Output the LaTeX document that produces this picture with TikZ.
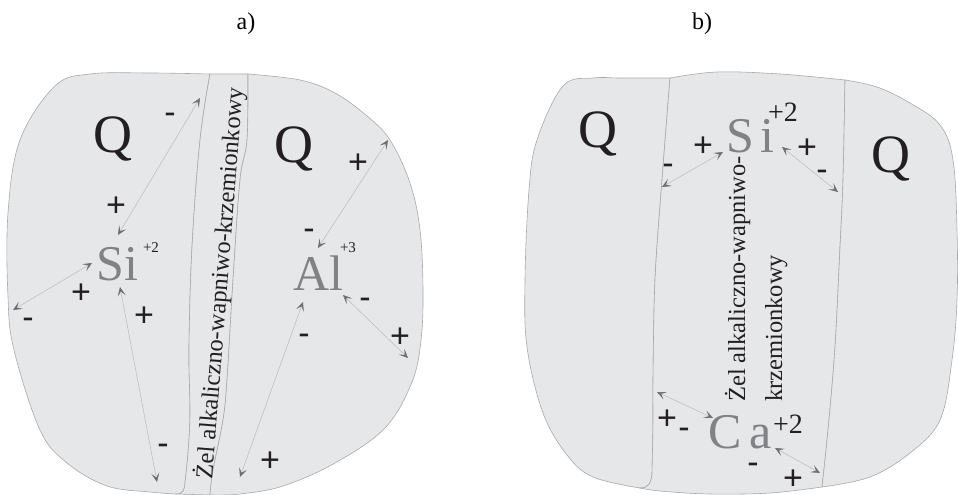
\documentclass[tikz,border=0pt]{standalone}
\usepackage{fontspec}
\setmainfont{Liberation Serif}
\newfontfamily\signfont{Liberation Sans}
\usetikzlibrary{arrows.meta}
\definecolor{blobfill}{RGB}{230,231,232}
\definecolor{blobline}{RGB}{167,169,172}
\definecolor{ink}{RGB}{35,31,32}
\definecolor{ion}{RGB}{128,130,133}
\definecolor{linegrey}{RGB}{185,186,188}
\definecolor{headgrey}{RGB}{109,110,113}
\begin{document}
\begin{tikzpicture}[x=1pt,y=-1pt,
  blob/.style={fill=blobfill, draw=blobline, line width=0.6pt},
  bigq/.style={font=\fontsize{54}{60}\selectfont, text=ink, inner sep=0pt, anchor=base},
  ionlbl/.style={font=\fontsize{50}{56}\selectfont, text=ion, inner sep=0pt, anchor=base},
  chgsmall/.style={font=\fontsize{15}{18}\selectfont, text=ink, inner sep=0pt, anchor=base},
  chgbig/.style={font=\fontsize{28}{32}\selectfont, text=ink, inner sep=0pt, anchor=base},
  sgn/.style={font=\signfont\fontsize{34}{36}\selectfont, text=ink, inner sep=0pt,
    text height=23pt, text depth=0pt},
  gel/.style={font=\fontsize{24.5}{38}\selectfont, text=ink, inner sep=0pt},
  panel/.style={font=\fontsize{24}{28}\selectfont, text=black, inner sep=0pt},
  dbl/.style={draw=linegrey, line width=0.5pt,
    {Stealth[length=9pt,width=8pt,inset=4.5pt,color=headgrey]}-{Stealth[length=9pt,width=8pt,inset=4.5pt,color=headgrey]}}
]
\useasboundingbox (0,0) rectangle (958,495);

% ---------- panel a ----------
\draw[blob] plot[smooth,tension=0.6] coordinates {(210,74) (150,73) (90,74) (55,86) (20,140) (8,213) (8,297) (14,350) (40,430) (67,463) (107,486) (150,492) (176,494)}
  .. controls (183,494) and (185,490) .. (185,482)
  -- plot[smooth,tension=0.6] coordinates {(185,482) (188,453) (190,413) (189,347) (192,247) (200,140) (210,74)} -- cycle;
\draw[blob] plot[smooth,tension=0.6] coordinates {(210,74) (200,140) (192,247) (189,347) (190,413) (188,453) (185,482)}
  .. controls (185,490) and (183,494) .. (176,494) -- (210,495)
  -- plot[smooth,tension=0.6] coordinates {(210,495) (213,470) (223,420) (227,380) (233,280) (240,180) (247,140) (248,74)} -- cycle;
\draw[blob] plot[smooth,tension=0.6] coordinates {(248,74) (300,80) (335,93) (367,116) (390,140) (410,183) (420,230) (423,290) (421,340) (412,382) (385,428) (335,463) (283,486) (240,494) (210,495)}
  -- plot[smooth,tension=0.6] coordinates {(210,495) (213,470) (223,420) (227,380) (233,280) (240,180) (247,140) (248,74)} -- cycle;

\node[panel] (pa) at (246,24) {a)};
\node[bigq] (qa1) at (113,152) {Q};
\node[bigq] (qa2) at (294,162) {Q};
\node[ionlbl] (sia) at (117.5,280) {Si};
\node[chgsmall] (sica) at (151,252) {+2};
\node[ionlbl] (ala) at (318,290) {Al};
\node[chgsmall] (alca) at (348,252) {+3};
\node[gel, rotate=85.5] (gela) at (220,283) {Żel alkaliczno-wapniwo-krzemionkowy};

\coordinate (a1s) at (200,98);  \coordinate (a1e) at (118,235);
\coordinate (a2s) at (92,263);  \coordinate (a2e) at (13,310);
\coordinate (a3s) at (120,287); \coordinate (a3e) at (157,482);
\coordinate (a4s) at (388,140); \coordinate (a4e) at (318,248);
\coordinate (a5s) at (343,295); \coordinate (a5e) at (408,358);
\coordinate (a6s) at (303,302); \coordinate (a6e) at (240,477);
\draw[dbl] (a1s) -- (a1e);
\draw[dbl] (a2s) -- (a2e);
\draw[dbl] (a3s) -- (a3e);
\draw[dbl] (a4s) -- (a4e);
\draw[dbl] (a5s) -- (a5e);
\draw[dbl] (a6s) -- (a6e);

\node[sgn] (sa1) at (170,112) {-};
\node[sgn] (sa2) at (116,205) {+};
\node[sgn] (sa3) at (81,292) {+};
\node[sgn] (sa4) at (28,317) {-};
\node[sgn] (sa5) at (144,315) {+};
\node[sgn] (sa6) at (163,443) {-};
\node[sgn] (sa7) at (358,162) {+};
\node[sgn] (sa8) at (309,228) {-};
\node[sgn] (sa9) at (365,297) {-};
\node[sgn] (sa10) at (304,333) {-};
\node[sgn] (sa11) at (400,336) {+};
\node[sgn] (sa12) at (270,460) {+};

% ---------- panel b ----------
\draw[blob] plot[smooth,tension=0.6] coordinates {(670,78) (620,78) (593,78) (563,86) (537,140) (529,190) (525,280) (527,347) (543,413) (567,455) (593,477) (640,488)}
  .. controls (648,488) and (651,484) .. (652,474)
  -- plot[smooth,tension=0.6] coordinates {(652,474) (653,420) (653,380) (655,280) (662,180) (670,78)} -- cycle;
\draw[blob] plot[smooth,tension=0.6] coordinates {(670,78) (717,72) (780,74) (845,80)}
  -- plot[smooth,tension=0.6] coordinates {(845,80) (843,180) (840,247) (835,347) (828,430) (822,487)}
  -- plot[smooth,tension=0.6] coordinates {(822,487) (770,493) (710,494) (660,491) (640,488)}
  .. controls (648,488) and (651,484) .. (652,474)
  -- plot[smooth,tension=0.6] coordinates {(652,474) (653,420) (653,380) (655,280) (662,180) (670,78)} -- cycle;
\draw[blob] plot[smooth,tension=0.6] coordinates {(845,80) (877,87) (910,103) (940,125) (953,160) (957,230) (957,300) (952,360) (940,420) (910,453) (870,477) (822,487)}
  -- plot[smooth,tension=0.6] coordinates {(822,487) (828,430) (835,347) (840,247) (843,180) (845,80)} -- cycle;

\node[panel] (pb) at (702,24) {b)};
\node[bigq] (qb1) at (598,147) {Q};
\node[bigq] (qb2) at (891,172) {Q};
\node[ionlbl] (sib) at (750.5,152) {S\kern6pt i};
\node[chgbig] (sicb) at (783,121) {+2};
\node[ionlbl] (cab) at (740,448) {C\kern8pt a};
\node[chgbig] (cacb) at (788,433) {+2};
\node[gel, rotate=90, anchor=base west] (gelb1) at (745,402) {Żel alkaliczno-wapniwo-};
\node[gel, rotate=90, anchor=base west] (gelb2) at (782,402) {krzemionkowy};

\coordinate (b1s) at (723,152); \coordinate (b1e) at (662,187);
\coordinate (b2s) at (782,147); \coordinate (b2e) at (838,192);
\coordinate (b3s) at (657,392); \coordinate (b3e) at (713,418);
\coordinate (b4s) at (775,448); \coordinate (b4e) at (820,473);
\draw[dbl] (b1s) -- (b1e);
\draw[dbl] (b2s) -- (b2e);
\draw[dbl] (b3s) -- (b3e);
\draw[dbl] (b4s) -- (b4e);

\node[sgn] (sb1) at (703,145) {+};
\node[sgn] (sb2) at (668,163) {-};
\node[sgn] (sb3) at (807,147) {+};
\node[sgn] (sb4) at (822,169) {-};
\node[sgn] (sb5) at (667,418) {+};
\node[sgn] (sb6) at (684,427) {-};
\node[sgn] (sb7) at (753,462) {-};
\node[sgn] (sb8) at (793,478) {+};
\end{tikzpicture}
\end{document}
